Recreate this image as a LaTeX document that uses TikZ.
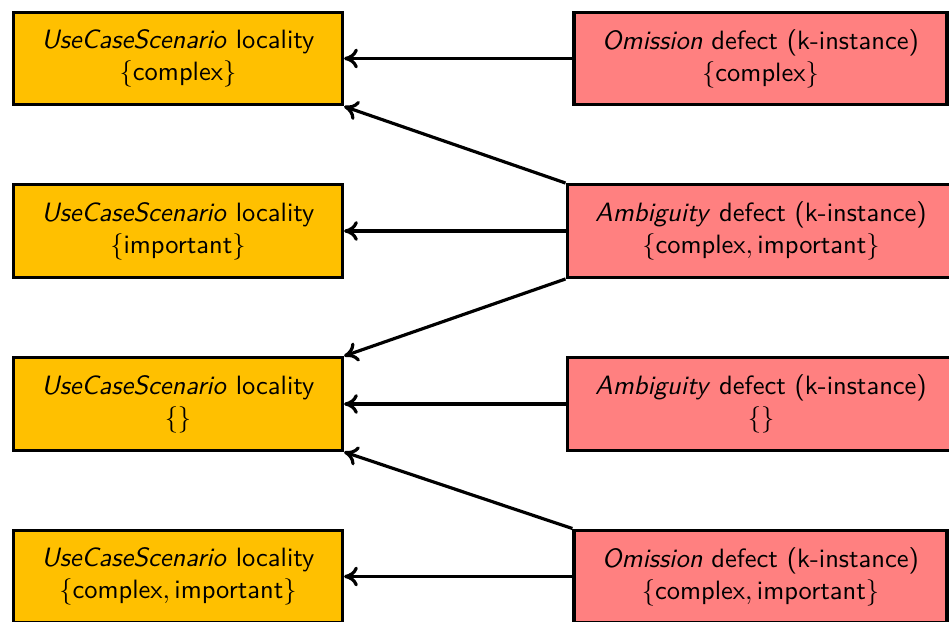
\documentclass[tikz,border=0pt]{standalone}
\usetikzlibrary{arrows.meta}
\definecolor{locorange}{RGB}{255,192,0}
\definecolor{defred}{RGB}{255,128,128}
\tikzset{
  box/.style={draw=black, line width=1.2pt, font=\sffamily, align=center,
    inner xsep=10.6pt, inner ysep=4pt, minimum height=35pt},
  loc/.style={box, fill=locorange},
  dfct/.style={box, fill=defred},
  conn/.style={line width=1.2pt, -{To[length=5.2pt,width=7.5pt]}}
}
\begin{document}
\begin{tikzpicture}[x=0.3774pt, y=-0.3774pt]
\useasboundingbox (0,0) rectangle (949,622);
\node[loc] (l0) at (178,58.5) {\textit{UseCaseScenario} locality\\$\{\mbox{complex}\}$};
\node[loc] (l1) at (178,231) {\textit{UseCaseScenario} locality\\$\{\mbox{important}\}$};
\node[loc] (l2) at (178,404) {\textit{UseCaseScenario} locality\\$\{\}$};
\node[loc] (l3) at (178,576.5) {\textit{UseCaseScenario} locality\\$\{\mbox{complex}, \mbox{important}\}$};
\node[dfct] (r0) at (760.5,58.5) {\textit{Omission} defect (k-instance)\\$\{\mbox{complex}\}$};
\node[dfct] (r1) at (761,231) {\textit{Ambiguity} defect (k-instance)\\$\{\mbox{complex}, \mbox{important}\}$};
\node[dfct] (r2) at (761,404) {\textit{Ambiguity} defect (k-instance)\\$\{\}$};
\node[dfct] (r3) at (760.5,576.5) {\textit{Omission} defect (k-instance)\\$\{\mbox{complex}, \mbox{important}\}$};
\draw[conn] (r0.west) -- (l0.east);
\draw[conn] (r1.north west) -- (l0.south east);
\draw[conn] (r1.west) -- (l1.east);
\draw[conn] (r1.south west) -- (l2.north east);
\draw[conn] (r2.west) -- (l2.east);
\draw[conn] (r3.north west) -- (l2.south east);
\draw[conn] (r3.west) -- (l3.east);
\end{tikzpicture}
\end{document}
